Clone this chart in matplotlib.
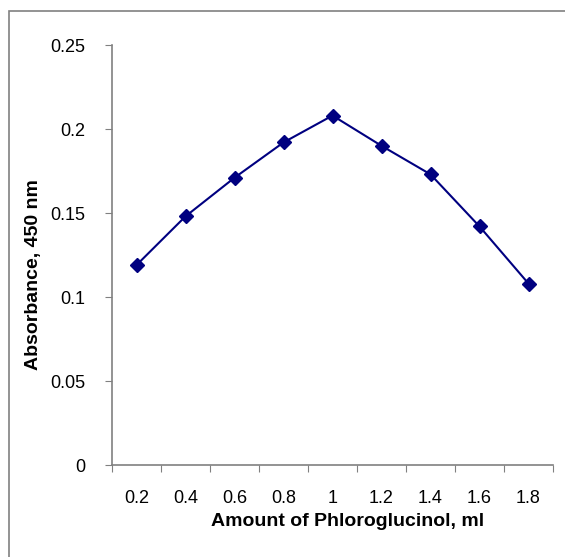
import matplotlib.pyplot as plt
from matplotlib.patches import Rectangle

# ---------- data ----------
amounts = ['0.2', '0.4', '0.6', '0.8', '1', '1.2', '1.4', '1.6', '1.8']
absorbance = [0.119, 0.148, 0.171, 0.192, 0.208, 0.190, 0.173, 0.142, 0.108]
y_ticks = [0, 0.05, 0.1, 0.15, 0.2, 0.25]
y_labels = ['0', '0.05', '0.1', '0.15', '0.2', '0.25']

plt.rcParams['font.family'] = ['Liberation Sans', 'DejaVu Sans']

W, H = 565, 557
fig = plt.figure(figsize=(W / 100, H / 100), dpi=100)

# outer frame (runs off the right and bottom edges)
fig.patches.append(Rectangle((8.5 / W, -0.1), 1.2, 1 - 10.5 / H + 0.1,
                             transform=fig.transFigure, fill=False,
                             edgecolor='#808080', linewidth=1.2))

ax = fig.add_axes([112 / W, 1 - 465 / H, (553 - 112) / W, 420 / H])
x = list(range(len(amounts)))
ax.plot(x, absorbance, color='#000080', linewidth=1.5,
        marker='D', markersize=7, markerfacecolor='#000080',
        markeredgecolor='#000080')

ax.set_xlim(-0.5, len(amounts) - 0.5)
ax.set_ylim(0, 0.25)
ax.set_xticks([i - 0.5 for i in range(len(amounts) + 1)])
ax.set_xticklabels([])
ax.set_xticks(x, minor=True)
ax.set_xticklabels(amounts, minor=True, fontsize=13)
ax.tick_params(axis='x', which='minor', length=0, pad=18)
ax.tick_params(axis='x', which='major', length=5, direction='out', color='#808080')
ax.set_yticks(y_ticks)
ax.set_yticklabels(y_labels, fontsize=13)
ax.tick_params(axis='y', length=5, direction='out', pad=14, color='#808080')

for s in ['top', 'right']:
    ax.spines[s].set_visible(False)
for s in ['left', 'bottom']:
    ax.spines[s].set_color('#808080')
    ax.spines[s].set_linewidth(1.2)

ax.set_xlabel('Amount of Phloroglucinol, ml', fontsize=14, fontweight='bold')
ax.set_ylabel('Absorbance, 450 nm', fontsize=14, fontweight='bold')
ax.xaxis.set_label_coords((347.5 - 112) / 441, (465 - 513) / 420)
ax.yaxis.set_label_coords((42 - 112) / 441, (465 - 275) / 420)

fig.savefig('out.png', dpi=100)
